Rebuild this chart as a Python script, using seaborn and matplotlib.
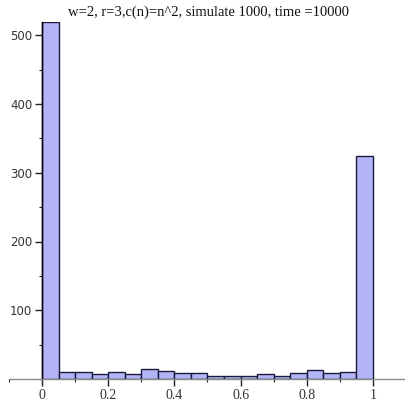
import numpy as np
import pandas as pd
import matplotlib
matplotlib.use("Agg")
import matplotlib.pyplot as plt
import seaborn as sns
from matplotlib.ticker import MultipleLocator

# histogram of 1000 simulations, 20 bins on [0, 1]
bin_edges = [round(i * 0.05, 2) for i in range(21)]
counts = [520, 10, 10, 7, 10, 8, 14, 11, 9, 9,
          4, 5, 5, 8, 5, 9, 13, 9, 10, 324]
bin_centers = [(a + b) / 2 for a, b in zip(bin_edges[:-1], bin_edges[1:])]

x_ticks = [0, 0.2, 0.4, 0.6, 0.8, 1]
x_tick_labels = ["0", "0.2", "0.4", "0.6", "0.8", "1"]
y_ticks = [100, 200, 300, 400, 500]
title = "w=2, r=3,c(n)=n^2, simulate 1000, time =10000"

df = pd.DataFrame({"value": bin_centers, "count": counts})

sns.set_style("white")
plt.rcParams['font.family'] = ['DejaVu Sans']

fig = plt.figure(figsize=(4.06, 4.01), dpi=100)
ax = fig.add_axes([9 / 406, 22 / 401, 397 / 406, 357.5 / 401])

sns.histplot(data=df, x="value", weights="count", bins=bin_edges, ax=ax,
             color="#b3b3f7", edgecolor="#1a1a3a", linewidth=1.0, alpha=1.0)

ax.set_xlim(-0.1, 1.1)
ax.set_ylim(0, 520)
ax.set_xlabel("")
ax.set_ylabel("")

ax.spines['top'].set_visible(False)
ax.spines['right'].set_visible(False)
ax.spines['left'].set_position(('data', 0))
ax.spines['left'].set_color("black")
ax.spines['left'].set_linewidth(1.0)
ax.spines['bottom'].set_color("#8a8a8a")
ax.spines['bottom'].set_linewidth(1.0)

ax.set_xticks(x_ticks)
ax.set_xticklabels(x_tick_labels, family=['Liberation Serif'], fontsize=10)
ax.set_yticks(y_ticks)
ax.set_yticklabels([str(v) for v in y_ticks], fontsize=8.5)
ax.xaxis.set_minor_locator(MultipleLocator(0.1))
ax.yaxis.set_minor_locator(MultipleLocator(50))
ax.tick_params(axis='both', which='major', direction='out', length=5,
               width=1, colors="#222222", labelcolor="#333333",
               bottom=True, left=True)
ax.tick_params(axis='both', which='minor', direction='out', length=2.5,
               width=0.8, colors="#222222", bottom=True, left=True)
ax.tick_params(axis='x', pad=2)
ax.tick_params(axis='y', pad=2)

fig.text(208 / 406, 1 - 12 / 401, title, ha='center', va='center',
         fontsize=10.5, family=['Liberation Serif'], color="#111111")

fig.savefig("out.png", dpi=100)
